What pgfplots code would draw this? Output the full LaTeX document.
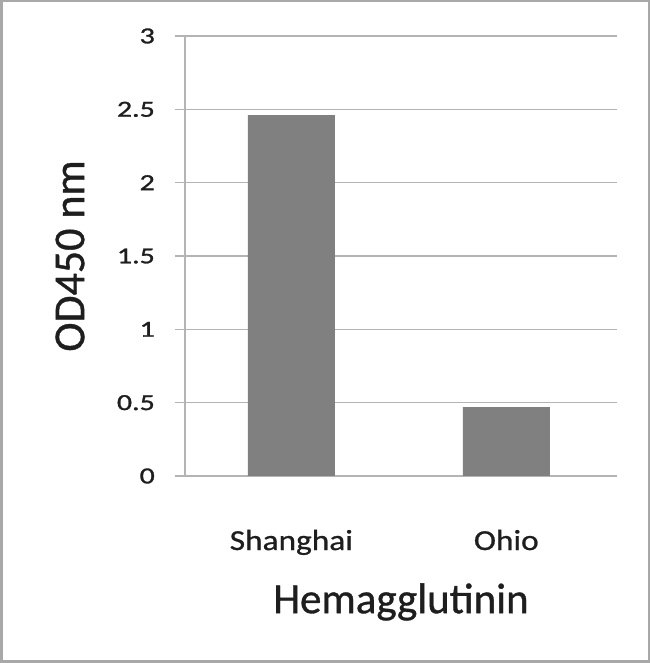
\documentclass[border=0pt]{standalone}
\usepackage{pgfplots}
\pgfplotsset{compat=1.18}
\usepackage{fontspec}
\setmainfont{Carlito}[FakeBold=0.8]
\newfontfamily\labfont[FakeBold=0.8]{Carlito}
\newfontfamily\tickfont[FakeStretch=1.3,FakeBold=1.2]{Carlito}
\newfontfamily\catfont[FakeStretch=1.15,FakeBold=0.8]{Carlito}
\definecolor{gridc}{HTML}{B4B4B4}
\definecolor{barc}{HTML}{808080}
\definecolor{framec}{HTML}{A8A8A8}
\definecolor{txt}{HTML}{1E1E1E}
\begin{document}
\begin{tikzpicture}[x=1pt,y=1pt]
\path (0,0) rectangle (650,663);
\begin{axis}[
  at={(185pt,187pt)}, anchor=south west,
  scale only axis, width=432pt, height=440pt,
  xmin=-0.495, xmax=1.515, ymin=0, ymax=3,
  axis x line=bottom, axis y line=left,
  axis line style={-, draw=gridc, line width=1.3pt},
  ytick={0,0.5,1,1.5,2,2.5,3},
  xtick={0,1}, xticklabels={Shanghai,Ohio},
  ymajorgrids, grid style={gridc, line width=1.3pt},
  tick align=outside, major tick length=10pt,
  xtick style={draw=none}, ytick style={gridc, line width=1.3pt},
  /pgf/number format/assume math mode=true,
  yticklabel style={font=\tickfont\fontsize{23}{23}\selectfont, text=txt, anchor=east, inner sep=0pt, xshift=-20pt},
  xticklabel style={font=\catfont\fontsize{29}{29}\selectfont, text=txt, anchor=base, yshift=-64pt},
  xlabel={Hemagglutinin},
  ylabel={OD450 nm},
  every axis x label/.style={at={(axis description cs:0.5,0)}, anchor=center, yshift=-126pt, font=\labfont\fontsize{43}{43}\selectfont, text=txt},
  every axis y label/.style={at={(axis description cs:0,0.5)}, xshift=-115pt, rotate=90, anchor=center, font=\labfont\fontsize{44}{44}\selectfont, text=txt},
  clip=false,
]
\addplot[ybar, bar width=87pt, fill=barc, draw=none] coordinates {(0,2.46) (1,0.47)};
\end{axis}
\draw[framec, line width=2.5pt] (1.25,1.25) rectangle (648.75,661.75);
\pgfresetboundingbox
\path (0,0) rectangle (650,663);
\end{tikzpicture}
\end{document}
